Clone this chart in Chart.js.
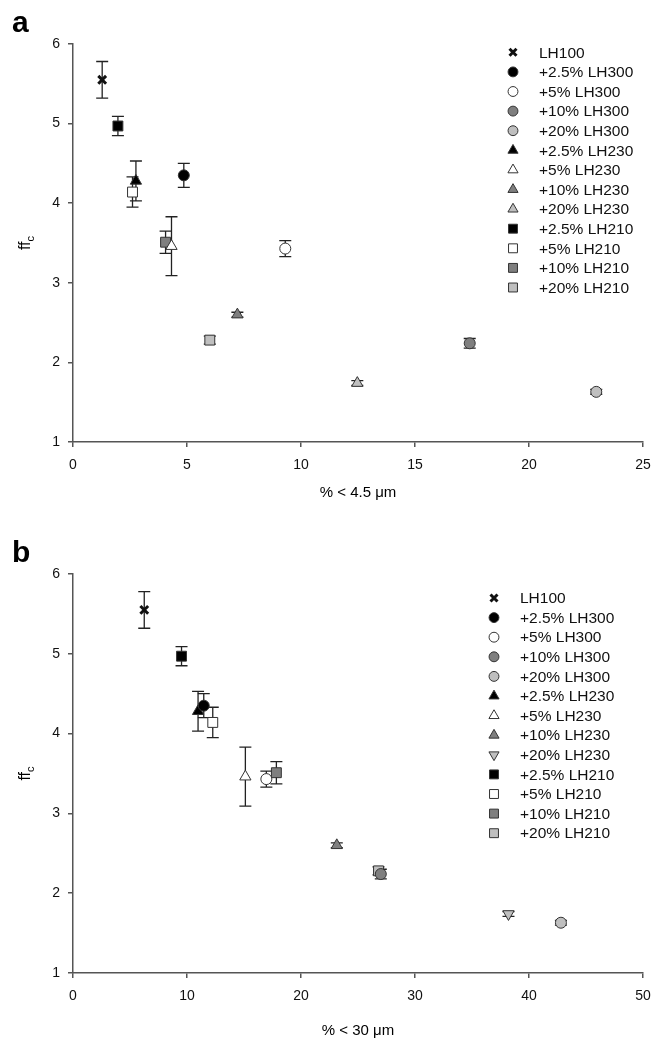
<!DOCTYPE html>
<html>
<head>
<meta charset="utf-8">
<script src="https://cdn.jsdelivr.net/npm/chart.js@4.4.1/dist/chart.umd.min.js"></script>
<style>
  body { margin: 0; background: #fff; }
  .panel { position: absolute; left: 0; width: 653px; }
  #panelA { top: 0; height: 520px; }
  #panelB { top: 520px; height: 521px; }
</style>
</head>
<body>
<div class="panel" id="panelA"><canvas id="chartA"></canvas></div>
<div class="panel" id="panelB"><canvas id="chartB"></canvas></div>
<script>
const seriesNames = ["LH100", "+2.5% LH300", "+5% LH300", "+10% LH300", "+20% LH300",
  "+2.5% LH230", "+5% LH230", "+10% LH230", "+20% LH230",
  "+2.5% LH210", "+5% LH210", "+10% LH210", "+20% LH210"];
// % < 4.5 um (panel a)
const fines45 = [1.28, 4.86, 9.31, 17.4, 22.95, 2.76, 4.32, 7.21, 12.47, 1.97, 2.61, 4.06, 6.0];
// % < 30 um (panel b)
const fines30 = [6.25, 11.47, 16.96, 27.0, 42.8, 10.97, 15.12, 23.14, 38.2, 9.52, 12.26, 17.84, 26.8];
// ffc and its error
const ffc = [5.55, 4.35, 3.43, 2.24, 1.63, 4.28, 3.46, 2.60, 1.74, 4.97, 4.14, 3.51, 2.28];
const ffcErr = [0.23, 0.15, 0.10, 0.06, 0.03, 0.25, 0.37, 0.03, 0.03, 0.12, 0.19, 0.14, 0.05];

const fills = ["#000", "#000", "#fff", "#7f7f7f", "#bfbfbf", "#000", "#fff", "#7f7f7f", "#bfbfbf",
  "#000", "#fff", "#7f7f7f", "#bfbfbf"];
const shapes = ["crossRot", "circle", "circle", "circle", "circle", "triangle", "triangle", "triangle", "triangle",
  "rect", "rect", "rect", "rect"];
const sizes = { crossRot: 5.5, circle: 5.5, triangle: 6.5, rect: 7 };

const errorBars = {
  id: "errorBars",
  beforeDatasetsDraw(chart) {
    const { ctx, scales: { x, y } } = chart;
    ctx.save();
    ctx.strokeStyle = "#222";
    ctx.lineWidth = 1.3;
    chart.data.datasets.forEach(ds => {
      const p = ds.data[0];
      const px = x.getPixelForValue(p.x);
      const top = y.getPixelForValue(p.y + p.err);
      const bot = y.getPixelForValue(p.y - p.err);
      ctx.beginPath();
      ctx.moveTo(px, top); ctx.lineTo(px, bot);
      ctx.moveTo(px - 6, top); ctx.lineTo(px + 6, top);
      ctx.moveTo(px - 6, bot); ctx.lineTo(px + 6, bot);
      ctx.stroke();
    });
    ctx.restore();
  }
};

const decorations = {
  id: "decorations",
  afterDraw(chart, args, opts) {
    const { ctx, chartArea: a } = chart;
    ctx.save();
    // panel letter
    ctx.fillStyle = "#000";
    ctx.font = "bold 30px 'Liberation Sans', Arial, sans-serif";
    ctx.textBaseline = "alphabetic";
    ctx.textAlign = "left";
    ctx.fillText(opts.letter, 12, a.top - 12);
    // x title
    ctx.font = "15px 'Liberation Sans', Arial, sans-serif";
    ctx.textAlign = "center";
    ctx.textBaseline = "middle";
    ctx.fillText(opts.xTitle, (a.left + a.right) / 2, a.bottom + opts.xTitleGap);
    // y title ff with subscript c
    ctx.save();
    ctx.translate(25, (a.top + a.bottom) / 2);
    ctx.rotate(-Math.PI / 2);
    ctx.font = "16px 'Liberation Sans', Arial, sans-serif";
    ctx.textAlign = "left";
    ctx.textBaseline = "alphabetic";
    const w1 = ctx.measureText("ff").width;
    ctx.font = "11px 'Liberation Sans', Arial, sans-serif";
    const w2 = ctx.measureText("c").width;
    ctx.font = "16px 'Liberation Sans', Arial, sans-serif";
    const sx = -(w1 + w2) / 2;
    ctx.fillText("ff", sx, 5);
    ctx.font = "11px 'Liberation Sans', Arial, sans-serif";
    ctx.fillText("c", sx + w1, 9);
    ctx.restore();
    // legend
    ctx.font = "15.5px 'Liberation Sans', Arial, sans-serif";
    ctx.textAlign = "left";
    ctx.textBaseline = "middle";
    chart.data.datasets.forEach((ds, i) => {
      const ly = opts.legendY + i * 19.6;
      ctx.fillStyle = ds.backgroundColor;
      ctx.strokeStyle = ds.borderColor;
      ctx.lineWidth = ds.borderWidth;
      Chart.helpers.drawPoint(ctx, {
        pointStyle: ds.pointStyle, radius: ds.pointRadius * 0.9,
        rotation: ds.pointRotation || 0, borderWidth: ds.borderWidth
      }, opts.legendX, ly);
      ctx.fillStyle = "#111";
      ctx.fillText(ds.label, opts.legendX + 26, ly + 1);
    });
    ctx.restore();
  }
};

function makeDatasets(xs, flipLast230) {
  return seriesNames.map((name, i) => ({
    label: name,
    data: [{ x: xs[i], y: ffc[i], err: ffcErr[i] }],
    pointStyle: shapes[i],
    pointRadius: sizes[shapes[i]],
    pointRotation: (flipLast230 && i === 8) ? 180 : 0,
    backgroundColor: fills[i],
    borderColor: shapes[i] === "crossRot" ? "#111" : "#333",
    borderWidth: shapes[i] === "crossRot" ? 3 : 1,
    showLine: false
  }));
}

function axisOpts(min, max, step, isX, fitSize) {
  return {
    type: "linear", min: min, max: max,
    afterFit(s) {
      if (isX) { s.height = fitSize; s.paddingRight = 0; s.paddingLeft = 0; }
      else { s.width = fitSize; s.paddingTop = 0; s.paddingBottom = 0; }
    },
    ticks: {
      stepSize: step, color: "#111", padding: isX ? 10 : 8,
      font: { family: "'Liberation Sans', Arial, sans-serif", size: 14 }
    },
    grid: { display: true, drawOnChartArea: false, drawTicks: true, tickLength: 5, color: "#555", lineWidth: 1.5 },
    border: { display: true, color: "#555", width: 1.5 }
  };
}

function makeChart(id, xs, xMax, xStep, xTitle, letter, topPad, bottomFit, titleGap, legendX, legendY, flip) {
  return new Chart(document.getElementById(id), {
    type: "scatter",
    data: { datasets: makeDatasets(xs, flip) },
    options: {
      responsive: true, maintainAspectRatio: false, animation: false,
      layout: { padding: { top: topPad, right: 10, left: 0, bottom: 0 } },
      scales: {
        x: axisOpts(0, xMax, xStep, true, bottomFit),
        y: axisOpts(1, 6, 1, false, 73)
      },
      plugins: {
        legend: { display: false },
        tooltip: { enabled: false },
        decorations: { letter: letter, xTitle: xTitle, xTitleGap: titleGap, legendX: legendX, legendY: legendY }
      }
    },
    plugins: [errorBars, decorations]
  });
}

makeChart("chartA", fines45, 25, 5, "% < 4.5 \u03bcm", "a", 44, 78, 51, 513, 52.3, false);
makeChart("chartB", fines30, 50, 10, "% < 30 \u03bcm", "b", 54, 68, 58, 494, 78, true);
</script>
</body>
</html>
